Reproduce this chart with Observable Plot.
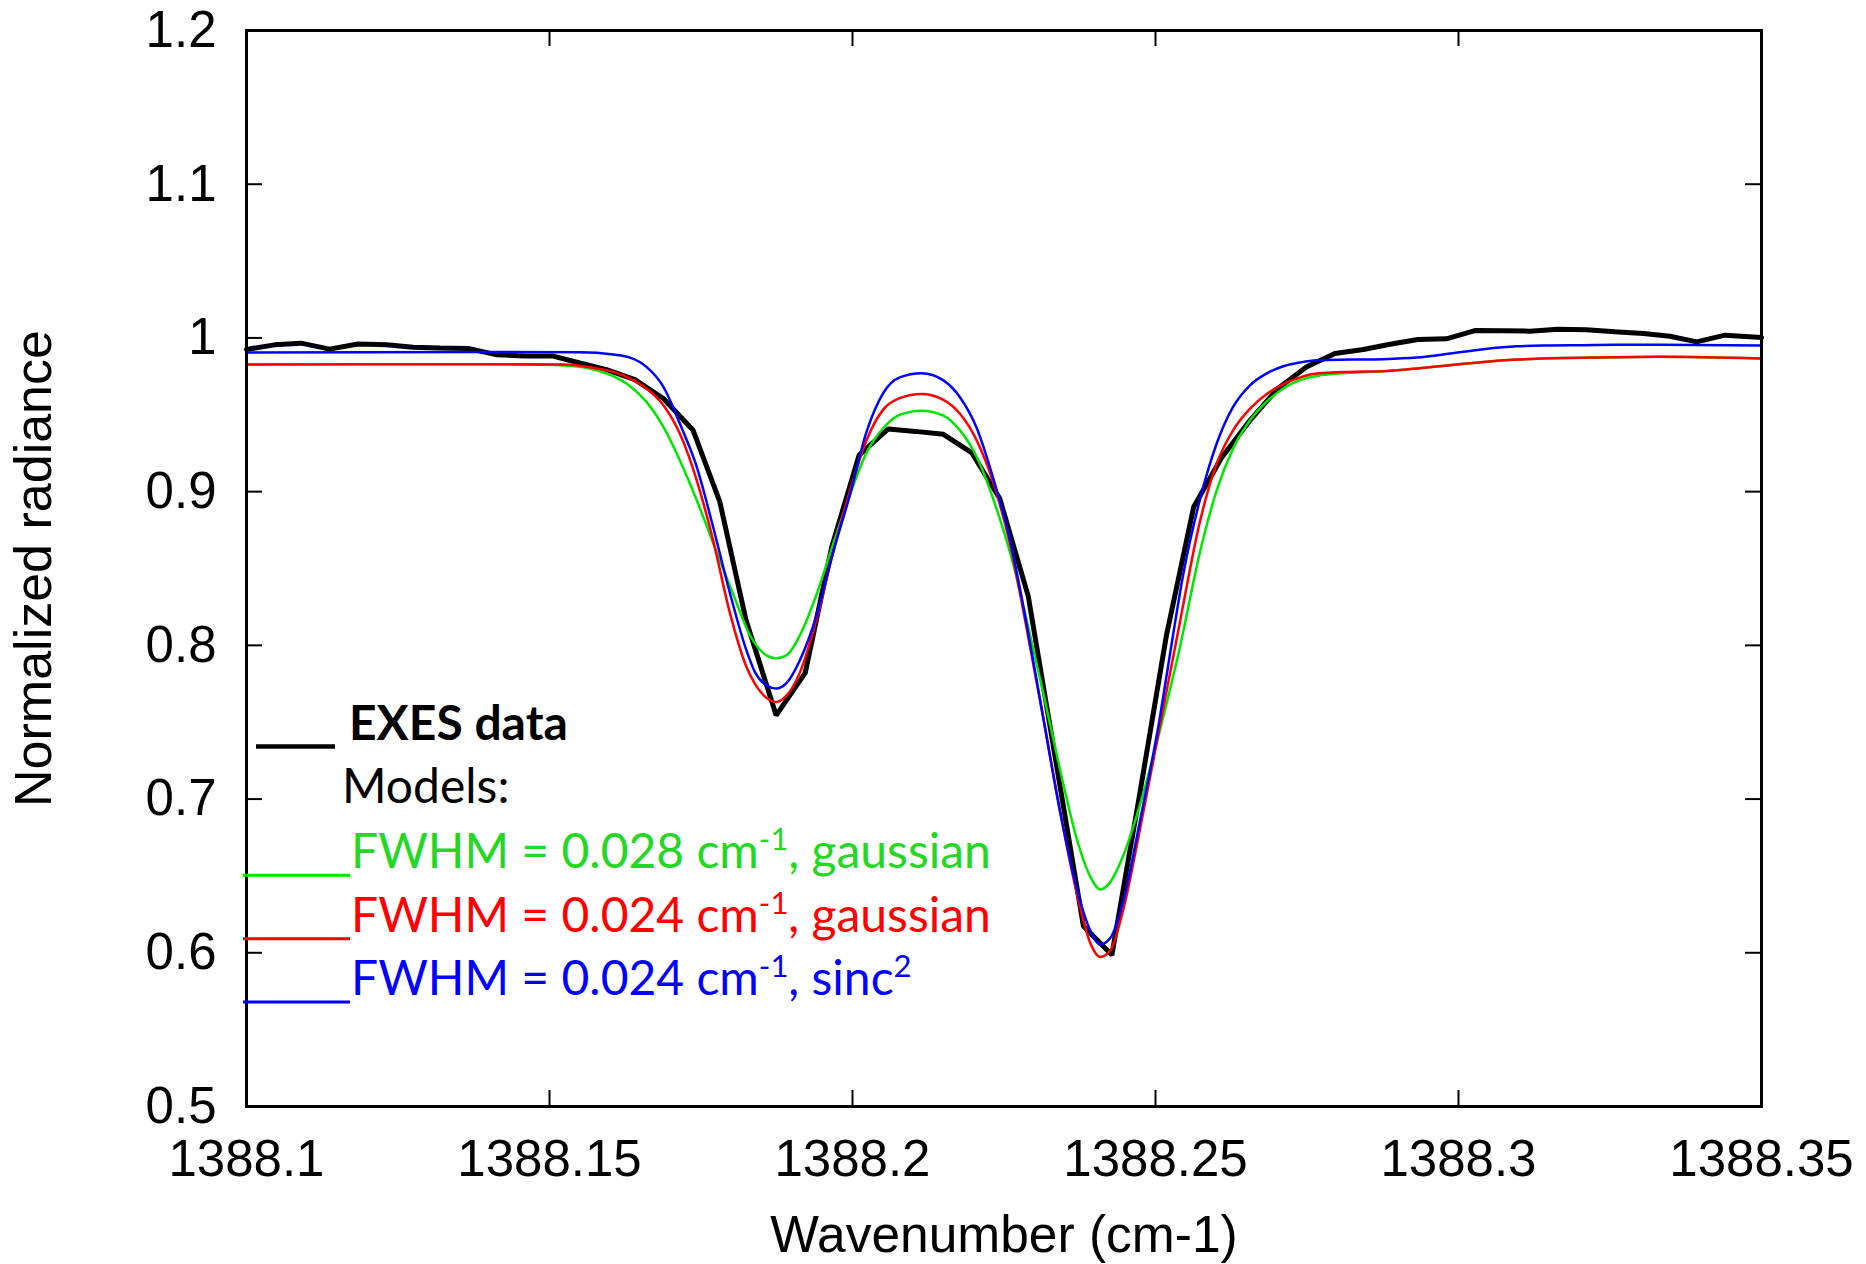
<!DOCTYPE html>
<html>
<head>
<meta charset="utf-8">
<script src="https://cdn.jsdelivr.net/npm/d3@7"></script>
<script src="https://cdn.jsdelivr.net/npm/@observablehq/plot@0.6"></script>
<style>
  html, body { margin: 0; padding: 0; background: #fff; }
  #chart { position: relative; width: 1866px; height: 1264px; }
</style>
</head>
<body>
<div id="chart"></div>
<script>
// ---------- data ----------
const xTicks = [1388.1, 1388.15, 1388.2, 1388.25, 1388.3, 1388.35];
const yTicks = [0.5, 0.6, 0.7, 0.8, 0.9, 1, 1.1, 1.2];

const exesX = [1388.1000,1388.1046,1388.1090,1388.1137,1388.1184,1388.1231,1388.1275,1388.1319,1388.1366,1388.1413,
  1388.1459,1388.1506,1388.1550,1388.1594,1388.1641,1388.1688,1388.1737,1388.1781,1388.1824,1388.1874,
  1388.1922,1388.1966,1388.2011,1388.2059,1388.2104,1388.2150,1388.2197,1388.2243,1388.2290,1388.2335,
  1388.2381,1388.2428,1388.2473,1388.2518,1388.2563,1388.2609,1388.2656,1388.2702,1388.2749,1388.2796,
  1388.2843,1388.2887,1388.2933,1388.2980,1388.3027,1388.3074,1388.3118,1388.3164,1388.3211,1388.3258,
  1388.3305,1388.3349,1388.3393,1388.3440,1388.3500];
const exesY = [0.9925,0.9955,0.9966,0.9927,0.9960,0.9955,0.9940,0.9935,0.9932,0.9890,
  0.9883,0.9882,0.9837,0.9794,0.9729,0.9606,0.9399,0.8935,0.8169,0.7545,
  0.7821,0.8644,0.9238,0.9408,0.9392,0.9373,0.9252,0.8955,0.8320,0.7260,
  0.6175,0.5985,0.7011,0.8064,0.8900,0.9221,0.9464,0.9671,0.9811,0.9899,
  0.9925,0.9959,0.9990,0.9994,1.0048,1.0046,1.0044,1.0057,1.0053,1.0040,
  1.0029,1.0011,0.9974,1.0018,1.0003];

const greenX = [1388.100,1388.120,1388.140,1388.1495,1388.155,1388.1578,1388.1605,1388.1633,1388.166,1388.1688,
  1388.1715,1388.1743,1388.1776,1388.1803,1388.1831,1388.1858,1388.1874,1388.1891,1388.1913,1388.1941,
  1388.1968,1388.1996,1388.2023,1388.2051,1388.2078,1388.2114,1388.2150,1388.2177,1388.2205,1388.2232,
  1388.2260,1388.2287,1388.2315,1388.2342,1388.2370,1388.2392,1388.2409,1388.2425,1388.2447,1388.2474,
  1388.2507,1388.2540,1388.2573,1388.2601,1388.2628,1388.2656,1388.2683,1388.2711,1388.2738,1388.2766,
  1388.2821,1388.2876,1388.2931,1388.2986,1388.3041,1388.3096,1388.3178,1388.3261,1388.3332,1388.3500];
const greenY = [0.9827,0.9828,0.9828,0.9826,0.9812,0.9790,0.9751,0.9686,0.9584,0.9421,
  0.9204,0.8944,0.8604,0.8334,0.8064,0.7935,0.7916,0.7935,0.8064,0.8334,
  0.8658,0.8982,0.9252,0.9414,0.9500,0.9527,0.9495,0.9400,0.9225,0.8955,
  0.8604,0.8172,0.7686,0.7201,0.6742,0.6499,0.6412,0.6458,0.6634,0.6958,
  0.7443,0.7983,0.8600,0.9009,0.9280,0.9464,0.9584,0.9671,0.9725,0.9753,
  0.9773,0.9783,0.9801,0.9823,0.9844,0.9859,0.9870,0.9875,0.9877,0.9866];

const redX = [1388.100,1388.120,1388.140,1388.1523,1388.1578,1388.1605,1388.1633,1388.1660,1388.1688,1388.1715,
  1388.1743,1388.1770,1388.1798,1388.1825,1388.1839,1388.1858,1388.1874,1388.1891,1388.1913,1388.1941,
  1388.1968,1388.1996,1388.2023,1388.2051,1388.2078,1388.2114,1388.2150,1388.2177,1388.2205,1388.2232,
  1388.2260,1388.2287,1388.2315,1388.2342,1388.2370,1388.2392,1388.2409,1388.2425,1388.2447,1388.2474,
  1388.2507,1388.2540,1388.2573,1388.2601,1388.2628,1388.2656,1388.2683,1388.2711,1388.2738,1388.2766,
  1388.2821,1388.2876,1388.2931,1388.2986,1388.3041,1388.3096,1388.3178,1388.3261,1388.3332,1388.3500];
const redY = [0.9827,0.9829,0.9829,0.9827,0.9801,0.9779,0.9736,0.9671,0.9562,0.9378,
  0.9074,0.8683,0.8206,0.7859,0.7750,0.7659,0.7632,0.7673,0.7821,0.8172,
  0.8604,0.9009,0.9333,0.9535,0.9608,0.9635,0.9597,0.9508,0.9333,0.9063,
  0.8658,0.8118,0.7524,0.6930,0.6390,0.6067,0.5973,0.6013,0.6283,0.6796,
  0.7470,0.8145,0.8800,0.9183,0.9399,0.9540,0.9634,0.9699,0.9742,0.9768,
  0.9779,0.9783,0.9801,0.9823,0.9844,0.9859,0.9870,0.9875,0.9877,0.9866];

const blueX = [1388.100,1388.120,1388.140,1388.1550,1388.1605,1388.1633,1388.1660,1388.1688,1388.1715,1388.1743,
  1388.1770,1388.1798,1388.1825,1388.1839,1388.1858,1388.1874,1388.1891,1388.1913,1388.1941,1388.1968,
  1388.1996,1388.2023,1388.2051,1388.2078,1388.2114,1388.2150,1388.2177,1388.2205,1388.2232,1388.2260,
  1388.2287,1388.2315,1388.2342,1388.2370,1388.2392,1388.2409,1388.2425,1388.2447,1388.2474,1388.2507,
  1388.2524,1388.2546,1388.2573,1388.2601,1388.2628,1388.2656,1388.2683,1388.2711,1388.2738,1388.2766,
  1388.2821,1388.2876,1388.2931,1388.2986,1388.3041,1388.3096,1388.3151,1388.3206,1388.3261,1388.3332,1388.3500];
const blueY = [0.9905,0.9907,0.9908,0.9907,0.9892,0.9872,0.9812,0.9682,0.9443,0.9161,
  0.8770,0.8336,0.7967,0.7826,0.7740,0.7719,0.7754,0.7902,0.8199,0.8604,
  0.8982,0.9387,0.9643,0.9743,0.9770,0.9724,0.9616,0.9414,0.9090,0.8685,
  0.8145,0.7524,0.6930,0.6418,0.6148,0.6054,0.6094,0.6337,0.6850,0.7524,
  0.7945,0.8466,0.8944,0.9313,0.9551,0.9692,0.9768,0.9816,0.9840,0.9855,
  0.9859,0.9862,0.9872,0.9898,0.9927,0.9946,0.9951,0.9953,0.9955,0.9955,0.9950];

const legendHead = "EXES data";
const legendSub = "Models:";
const modelNames = [
  ["FWHM = 0.028 cm", "-1", ", gaussian"],
  ["FWHM = 0.024 cm", "-1", ", gaussian"],
  ["FWHM = 0.024 cm", "-1", ", sinc", "2"]
];
const modelColors = ["#00e600", "#ff0000", "#0000ff"];
const modelTextColors = ["#22d822", "#ff0000", "#0000ff"];

// ---------- tables ----------
const zip = (xs, ys) => xs.map((x, i) => ({x, y: ys[i]}));
const exes = zip(exesX, exesY);
const models = [zip(greenX, greenY), zip(redX, redY), zip(blueX, blueY)];

// ---------- plot ----------
const W = 1866, H = 1264;
const mL = 246, mR = 105, mT = 30, mB = 158;
const iW = W - mL - mR, iH = H - mT - mB;
const tickLen = 16;

const svg = Plot.plot({
  width: W, height: H,
  marginLeft: mL, marginRight: mR, marginTop: mT, marginBottom: mB,
  style: {fontFamily: "'Liberation Sans', Arial, Helvetica, sans-serif", fontSize: "51px", color: "black", background: "white"},
  x: {domain: [1388.1, 1388.35], ticks: xTicks, tickFormat: d => String(d), tickSize: 0, tickPadding: 33, label: null},
  y: {domain: [0.5, 1.2], ticks: yTicks, tickFormat: d => String(d), tickSize: 0, tickPadding: 30, label: null},
  marks: [
    Plot.line(exes, {x: "x", y: "y", stroke: "black", strokeWidth: 5, strokeLinejoin: "miter"}),
    ...models.map((m, i) => Plot.line(m, {x: "x", y: "y", stroke: modelColors[i], strokeWidth: 2.5, curve: "monotone-x"})),
    Plot.tickX(xTicks, {x: d => d, insetTop: iH - tickLen, strokeWidth: 2}),
    Plot.tickX(xTicks, {x: d => d, insetBottom: iH - tickLen, strokeWidth: 2}),
    Plot.tickY(yTicks, {y: d => d, insetRight: iW - tickLen, strokeWidth: 2}),
    Plot.tickY(yTicks, {y: d => d, insetLeft: iW - tickLen, strokeWidth: 2}),
    Plot.frame({stroke: "black", strokeWidth: 3}),
    Plot.text(["Normalized radiance"], {text: d => d, frameAnchor: "left", dx: -212, rotate: -90, fontSize: 52, textAnchor: "middle", lineAnchor: "middle"}),
    Plot.text(["Wavenumber (cm-1)"], {text: d => d, frameAnchor: "bottom", dy: 129, fontSize: 51.5, textAnchor: "middle", lineAnchor: "middle"})
  ]
});

// ---------- legend (inside plot, drawn onto the svg) ----------
const g = d3.select(svg).append("g")
  .attr("font-family", "Lato, 'Open Sans', sans-serif")
  .attr("font-size", 48)
  .attr("text-anchor", "start");

g.append("line").attr("x1", 256).attr("x2", 335).attr("y1", 746.5).attr("y2", 746.5)
  .attr("stroke", "black").attr("stroke-width", 4.5);
g.append("text").attr("x", 349).attr("y", 740).attr("font-weight", "bold").attr("fill", "black")
  .attr("text-anchor", "start").text(legendHead);
g.append("text").attr("x", 342).attr("y", 803).attr("fill", "black")
  .attr("text-anchor", "start").text(legendSub);

const baseY = 868.3, step = 63.4;
modelNames.forEach((parts, i) => {
  const yb = baseY + i * step;
  g.append("line").attr("x1", 243).attr("x2", 350).attr("y1", yb + 7).attr("y2", yb + 7)
    .attr("stroke", modelColors[i]).attr("stroke-width", 3);
  const t = g.append("text").attr("x", 351).attr("y", yb).attr("fill", modelTextColors[i])
    .attr("text-anchor", "start");
  parts.forEach((p, j) => {
    const sup = j % 2 === 1;
    const ts = t.append("tspan").text(p);
    if (sup) ts.attr("font-size", 31).attr("dy", -18);
    else if (j > 0) ts.attr("dy", 18);
  });
});

document.getElementById("chart").appendChild(svg);
</script>
</body>
</html>
